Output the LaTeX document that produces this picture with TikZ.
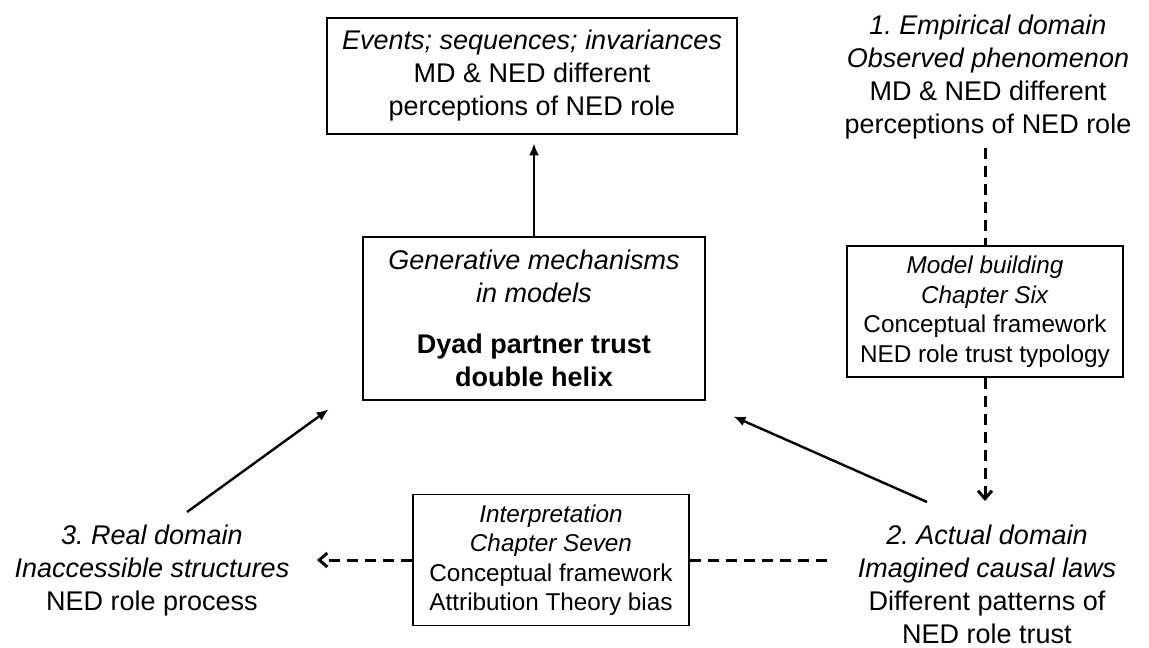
\documentclass[tikz,border=0pt]{standalone}
\usepackage{fontspec}
\setmainfont{Liberation Sans}
\usetikzlibrary{arrows.meta}
\frenchspacing
\begin{document}
\begin{tikzpicture}[x=1pt,y=-1pt,
  big/.style={font=\fontsize{27}{33}\selectfont, align=center},
  small/.style={font=\fontsize{24.3}{29.5}\selectfont, align=center},
  heavybox/.style={draw, line width=2.8pt, inner sep=0pt},
  lightbox/.style={draw, line width=1.8pt, inner sep=0pt, small,
                   minimum width=276pt, minimum height=131pt},
  freetext/.style={big, anchor=north, inner sep=0pt},
  solidarrow/.style={line width=2.4pt, -{Latex[length=12pt,width=10pt]}},
  dashline/.style={line width=3pt, dash pattern=on 11pt off 7pt},
  dasharrow/.style={dashline, -{Straight Barb[length=8pt,width=14pt]}}
]
\useasboundingbox (0,0) rectangle (1149,648);

% boxes
\node[heavybox, big, minimum width=410pt, minimum height=116pt] (events) at (532,76)
  {\textit{Events; sequences; invariances}\\MD \& NED different\\perceptions of NED role};
\node[heavybox, big, minimum width=342pt, minimum height=163pt] (gen) at (534,318.5)
  {\textit{Generative mechanisms}\\\textit{in models}\\[18pt]\textbf{Dyad partner trust}\\\textbf{double helix}};
\node[lightbox] (model) at (985,311.5)
  {\textit{Model building}\\\textit{Chapter Six}\\Conceptual framework\\NED role trust typology};
\node[lightbox] (interp) at (551,560)
  {\textit{Interpretation}\\\textit{Chapter Seven}\\Conceptual framework\\Attribution Theory bias};

% domain labels
\node[freetext] (empirical) at (988,15)
  {\textit{1. Empirical domain}\\\textit{Observed phenomenon}\\MD \& NED different\\perceptions of NED role};
\node[freetext] (actual) at (987,525)
  {\textit{2. Actual domain}\\\textit{Imagined causal laws}\\Different patterns of\\NED role trust};
\node[freetext] (real) at (152,525)
  {\textit{3. Real domain}\\\textit{Inaccessible structures}\\NED role process};

% free ends of connectors
\coordinate (actualout) at (927,502);
\coordinate (realout) at (187,512);
\coordinate (actualin) at (827,560);
\coordinate (realin) at (317,560);

% connectors
\draw[solidarrow, shorten >=8pt] (gen.north) -- (gen.north |- events.south);
\draw[solidarrow] (actualout) -- ([shift={(27,15)}]gen.south east);
\draw[solidarrow] (realout) -- ([shift={(-33,8)}]gen.south west);
\draw[dashline, shorten <=8pt] (model.north |- empirical.south) -- (model.north);
\draw[dasharrow, shorten >=24pt] (model.south) -- (model.south |- actual.north);
\draw[dashline] (actualin) -- (interp.east);
\draw[dasharrow] (interp.west) -- (realin);
\end{tikzpicture}
\end{document}
